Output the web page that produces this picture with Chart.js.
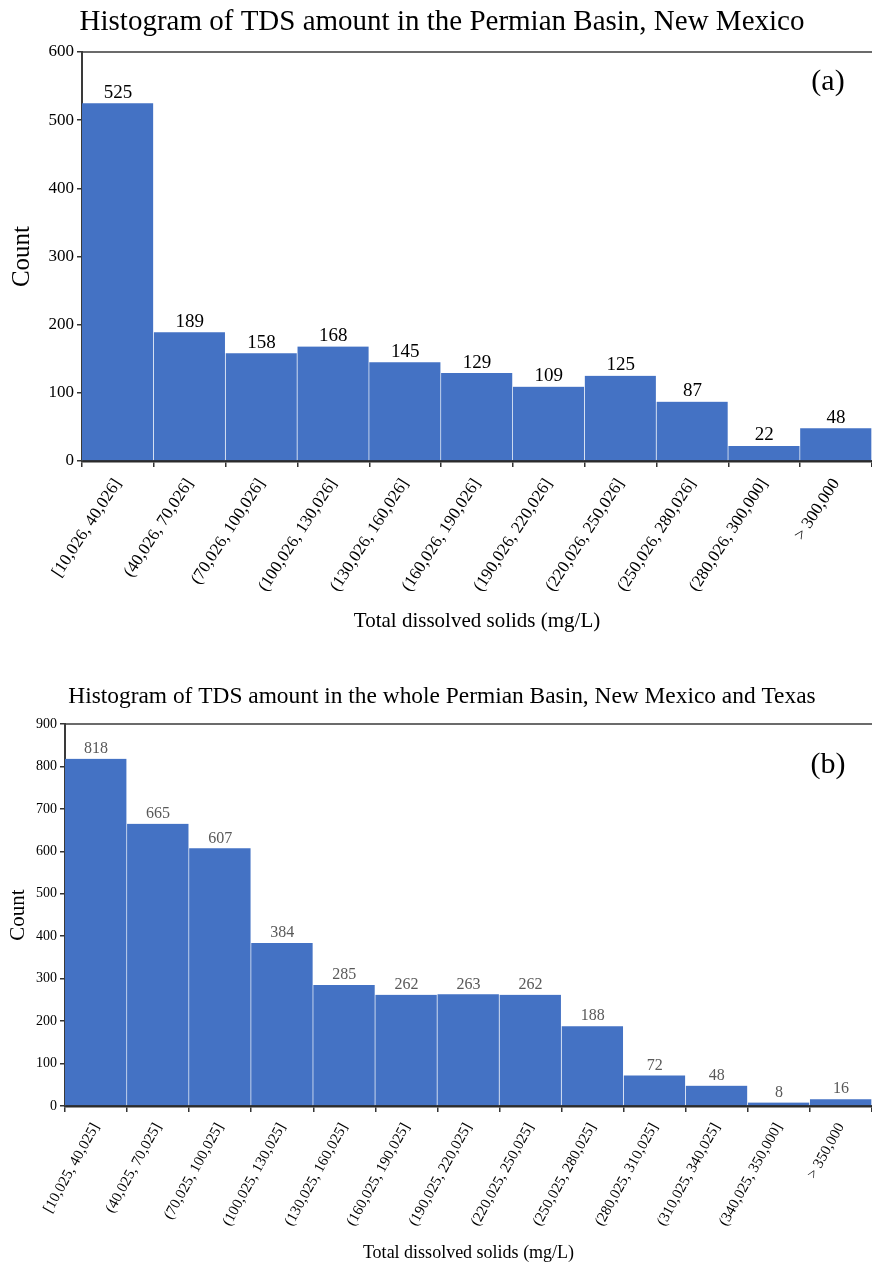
<!DOCTYPE html>
<html>
<head>
<meta charset="utf-8">
<script src="https://cdn.jsdelivr.net/npm/chart.js@4.4.1/dist/chart.umd.min.js"></script>
<style>
  html, body { margin: 0; padding: 0; background: #fff; }
  #wrap { position: relative; width: 872px; height: 1266px; }
  .box { position: absolute; left: 0; width: 872px; }
  #boxA { top: 0; height: 650px; }
  #boxB { top: 650px; height: 616px; }
</style>
</head>
<body>
<div id="wrap">
  <div class="box" id="boxA"><canvas id="chartA" width="872" height="650"></canvas></div>
  <div class="box" id="boxB"><canvas id="chartB" width="872" height="616"></canvas></div>
</div>
<script>
// Panel (a): New Mexico part of the Permian Basin
const binsNM = ['[10,026, 40,026]', '(40,026, 70,026]', '(70,026, 100,026]', '(100,026, 130,026]',
  '(130,026, 160,026]', '(160,026, 190,026]', '(190,026, 220,026]', '(220,026, 250,026]',
  '(250,026, 280,026]', '(280,026, 300,000]', '> 300,000'];
const countsNM = [525, 189, 158, 168, 145, 129, 109, 125, 87, 22, 48];
const ticksNM = [0, 100, 200, 300, 400, 500, 600];

// Panel (b): whole Permian Basin, New Mexico and Texas
const binsAll = ['[10,025, 40,025]', '(40,025, 70,025]', '(70,025, 100,025]', '(100,025, 130,025]',
  '(130,025, 160,025]', '(160,025, 190,025]', '(190,025, 220,025]', '(220,025, 250,025]',
  '(250,025, 280,025]', '(280,025, 310,025]', '(310,025, 340,025]', '(340,025, 350,000]', '> 350,000'];
const countsAll = [818, 665, 607, 384, 285, 262, 263, 262, 188, 72, 48, 8, 16];
const ticksAll = [0, 100, 200, 300, 400, 500, 600, 700, 800, 900];

const SERIF = '"Liberation Serif", "Times New Roman", serif';
const BAR = '#4472C4';

// Draws the heading, the frame line along the top of the plot,
// the count above each bar and the panel tag
function histDecor(opts) {
  return {
    id: 'histDecor',
    afterDatasetsDraw(chart) {
      const { ctx, chartArea } = chart;
      ctx.save();

      ctx.fillStyle = '#000';
      ctx.font = opts.titleFont;
      ctx.textAlign = 'center';
      ctx.textBaseline = 'middle';
      ctx.fillText(opts.title, opts.titleX, opts.titleY);

      ctx.strokeStyle = '#3a3a3a';
      ctx.lineWidth = 1.5;
      ctx.beginPath();
      ctx.moveTo(chartArea.left, chartArea.top);
      ctx.lineTo(chartArea.right, chartArea.top);
      ctx.stroke();

      const meta = chart.getDatasetMeta(0);
      const data = chart.data.datasets[0].data;
      ctx.fillStyle = opts.labelColor;
      ctx.font = opts.labelFont;
      ctx.textAlign = 'center';
      ctx.textBaseline = 'bottom';
      meta.data.forEach((bar, i) => {
        ctx.fillText(String(data[i]), bar.x, bar.y - opts.labelGap);
      });

      ctx.fillStyle = '#000';
      ctx.font = opts.tagFont;
      ctx.textAlign = 'center';
      ctx.textBaseline = 'middle';
      ctx.fillText(opts.tag, opts.tagX, chartArea.top + opts.tagDy);
      ctx.restore();
    }
  };
}

function makeHist(id, cfg) {
  return new Chart(document.getElementById(id), {
    type: 'bar',
    data: {
      labels: cfg.labels,
      datasets: [{
        data: cfg.values,
        backgroundColor: BAR,
        borderColor: '#ffffff',
        borderWidth: { top: 0, right: 1, bottom: 0, left: 0 },
        borderSkipped: false,
        categoryPercentage: 1.0,
        barPercentage: 1.0
      }]
    },
    options: {
      responsive: false,
      animation: false,
      layout: { padding: { left: 0, right: 0, top: cfg.topPad, bottom: 0 } },
      plugins: {
        legend: { display: false },
        tooltip: { enabled: false },
        title: { display: false }
      },
      scales: {
        x: {
          offset: true,
          grid: { display: true, drawOnChartArea: false, offset: true, tickLength: 6, color: '#333', lineWidth: 1.5 },
          border: { display: true, color: '#2b2b2b', width: 2.5 },
          ticks: {
            color: '#000',
            font: { family: SERIF, size: cfg.xTickSize },
            minRotation: cfg.rot, maxRotation: cfg.rot, autoSkip: false, padding: cfg.xTickPad
          },
          title: {
            display: true,
            text: 'Total dissolved solids (mg/L)',
            color: '#000',
            font: { family: SERIF, size: cfg.xTitleSize },
            padding: { top: 0, bottom: cfg.xTitlePadB }
          },
          afterFit(scale) { scale.height = cfg.xHeight; }
        },
        y: {
          min: 0,
          max: cfg.yMax,
          afterBuildTicks(scale) { scale.ticks = cfg.yTicks.map(v => ({ value: v })); },
          grid: { display: true, drawOnChartArea: false, tickLength: 5, color: '#333', lineWidth: 1.5 },
          border: { display: true, color: '#3a3a3a', width: 2 },
          ticks: {
            color: '#000',
            font: { family: SERIF, size: cfg.yTickSize },
            padding: 3
          },
          title: {
            display: true,
            text: 'Count',
            color: '#000',
            font: { family: SERIF, size: cfg.yTitleSize },
            padding: { top: cfg.yTitlePadT, bottom: 0 }
          },
          afterFit(scale) { scale.width = cfg.yWidth; }
        }
      }
    },
    plugins: [histDecor(cfg.decor)]
  });
}

makeHist('chartA', {
  labels: binsNM, values: countsNM, yTicks: ticksNM, yMax: 600, topPad: 52,
  xTickSize: 17, rot: 57, xTickPad: 8, xTitleSize: 21, xTitlePadB: 16.4, xHeight: 189,
  yTickSize: 17, yTitleSize: 25, yTitlePadT: 7, yWidth: 82,
  decor: {
    title: 'Histogram of TDS amount in the Permian Basin, New Mexico',
    titleFont: '29px ' + SERIF, titleX: 442, titleY: 22,
    labelColor: '#000', labelFont: '19px ' + SERIF, labelGap: 1,
    tag: '(a)', tagFont: '30px ' + SERIF, tagX: 828, tagDy: 30
  }
});

makeHist('chartB', {
  labels: binsAll, values: countsAll, yTicks: ticksAll, yMax: 900, topPad: 74,
  xTickSize: 15, rot: 61, xTickPad: 8, xTitleSize: 18, xTitlePadB: 2.2, xHeight: 160,
  yTickSize: 14, yTitleSize: 21, yTitlePadT: 6, yWidth: 65,
  decor: {
    title: 'Histogram of TDS amount in the whole Permian Basin, New Mexico and Texas',
    titleFont: '23.4px ' + SERIF, titleX: 442, titleY: 47,
    labelColor: '#595959', labelFont: '16px ' + SERIF, labelGap: 2,
    tag: '(b)', tagFont: '30px ' + SERIF, tagX: 828, tagDy: 41
  }
});
</script>
</body>
</html>
